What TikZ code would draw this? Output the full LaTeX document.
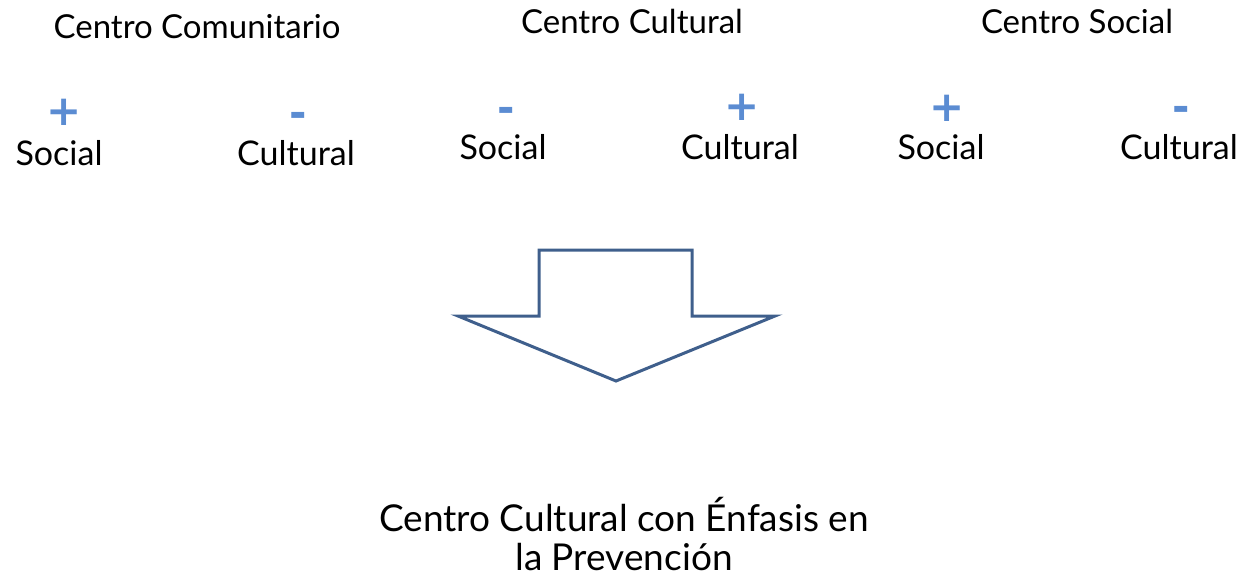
\documentclass[tikz,border=0pt]{standalone}
\usepackage{fontspec}
\setmainfont{Lato}
\newfontfamily\signfont{DejaVu Sans}
\definecolor{arrowblue}{HTML}{3F5F8C}
\definecolor{signblue}{HTML}{5B8CD2}
\begin{document}
\begin{tikzpicture}[x=1pt,y=-1pt,
  lbl/.style={font=\fontsize{34}{39}\selectfont, inner sep=0pt, anchor=center},
  ttl/.style={font=\fontsize{33}{39}\selectfont, inner sep=0pt, anchor=center},
  res/.style={font=\fontsize{37}{39}\selectfont, inner sep=0pt, anchor=center, align=center},
  sgn/.style={font=\fontsize{42}{44}\signfont\bfseries, text=signblue, inner sep=0pt, anchor=center}]
\useasboundingbox (0,0) rectangle (1241,576);
\node[ttl] (t1) at (197,27) {Centro Comunitario};
\node[ttl] (t2) at (632,21) {Centro Cultural};
\node[ttl] (t3) at (1077,21) {Centro Social};
\node[sgn] (p1) at (64,112) {+};
\node[lbl] (s1) at (59,153) {Social};
\node[sgn] (m1) at (298,120) {-};
\node[lbl] (c1) at (296,153) {Cultural};
\node[sgn] (m2) at (506,115) {-};
\node[lbl] (s2) at (503,147) {Social};
\node[sgn] (p2) at (742,107) {+};
\node[lbl] (c2) at (740,147) {Cultural};
\node[sgn] (p3) at (947,108) {+};
\node[lbl] (s3) at (941,147) {Social};
\node[sgn] (m3) at (1181,114) {-};
\node[lbl] (c3) at (1179,147) {Cultural};
\draw[arrowblue, line width=3pt, line join=miter]
  (539,250) -- (692,250) -- (692,316) -- (775,316) -- (616,381) -- (458,316) -- (539,316) -- cycle;
\node[res] (res) at (624,534) {Centro Cultural con Énfasis en\\la Prevención};
\end{tikzpicture}
\end{document}
